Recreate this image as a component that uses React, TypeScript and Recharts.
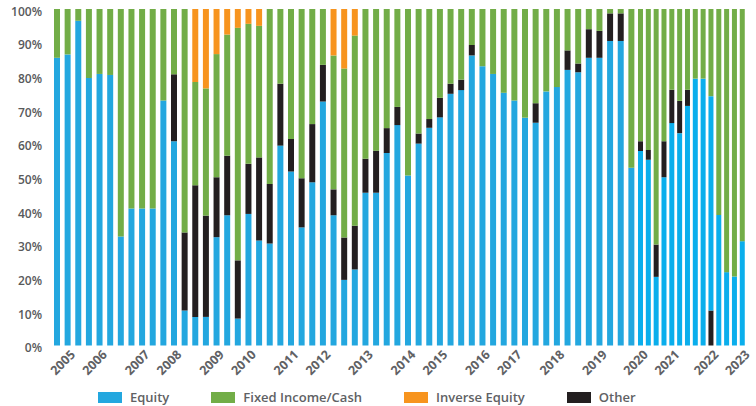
import { Bar, BarChart, XAxis, YAxis } from "recharts";

// one entry per reporting date, oldest first (69 bars)
const equity = [
  85.5, 86.5, 96.5, 79.5, 80.7, 80.4, 32.4, 40.7, 40.7, 40.7,
  72.8, 60.7, 10.4, 8.5, 8.5, 32.2, 38.7, 8, 39.1, 31.2,
  30.3, 59.4, 51.7, 35.1, 48.5, 72.5, 38.7, 19.5, 22.6, 45.4,
  45.4, 57.2, 65.5, 50.5, 60, 64.7, 67.8, 74.8, 75.9, 86.2,
  83, 80.7, 75.1, 72.8, 67.7, 66.2, 75.5, 76.8, 81.9, 81.2,
  85.5, 85.5, 90.5, 90.5, 52.8, 57.8, 55.2, 20.4, 50, 66.1,
  63.1, 71.2, 79.3, 79.3, 63.7, 38.8, 21.8, 20.5, 31,
];
const other = [
  0, 0, 0, 0, 0, 0, 0, 0, 0, 0,
  0, 19.9, 23.2, 39.1, 30.1, 17.8, 17.7, 17.3, 14.9, 24.7,
  17.7, 18.4, 9.7, 14.6, 17.3, 10.9, 7.7, 12.6, 13, 10.1,
  12.5, 7.4, 5.4, 0, 3, 2.6, 5.8, 3, 3.1, 3.1,
  0, 0, 0, 0, 0, 5.8, 0, 0, 5.8, 2.6,
  8.5, 8, 8.2, 8.2, 0, 2.9, 2.9, 9.6, 10.7, 9.9,
  9.6, 4.8, 0, 0, 0, 0, 0, 0, 0,
];
const fixedIncome = [
  14.5, 13.5, 3.5, 20.5, 19.3, 19.6, 67.6, 59.3, 59.3, 59.3,
  27.2, 19.4, 66.4, 30.7, 37.8, 36.6, 36, 69.1, 41.6, 39.1,
  52, 22.2, 38.6, 50.3, 34.2, 16.6, 39.8, 50.2, 56.5, 44.5,
  42.1, 35.4, 29.1, 49.5, 37, 32.7, 26.4, 22.2, 21, 10.7,
  17, 19.3, 24.9, 27.2, 32.3, 28, 24.5, 23.2, 12.3, 16.2,
  6, 6.5, 1.3, 1.3, 47.2, 39.3, 41.9, 70, 39.3, 24,
  27.3, 24, 20.7, 20.7, 25.9, 61.2, 78.2, 79.5, 69,
];
const inverseEquity = [
  0, 0, 0, 0, 0, 0, 0, 0, 0, 0,
  0, 0, 0, 21.7, 23.6, 13.4, 7.6, 5.6, 4.4, 5,
  0, 0, 0, 0, 0, 0, 13.8, 17.7, 7.9, 0,
  0, 0, 0, 0, 0, 0, 0, 0, 0, 0,
  0, 0, 0, 0, 0, 0, 0, 0, 0, 0,
  0, 0, 0, 0, 0, 0, 0, 0, 0, 0,
  0, 0, 0, 0, 0, 0, 0, 0, 0,
];
// bar 65 shows its "Other" slice under the equity slice
const otherBelowEquity: Record<number, number> = { 65: 10.4 };

const years = [
  2005, 2006, 2007, 2008, 2009, 2010, 2011, 2012, 2013, 2014,
  2015, 2016, 2017, 2018, 2019, 2020, 2021, 2022, 2023,
];
const yearBars = [2, 5, 9, 12, 16, 19, 23, 26, 30, 34, 37, 41, 44, 48, 52, 56, 60, 65, 69];
const pctTicks = [0, 10, 20, 30, 40, 50, 60, 70, 80, 90, 100];

// the chart gets denser from bar 56 on
const firstPeriodBars = 55;

const rows = equity.map((eq, i) => ({
  bar: i + 1,
  otherBase: otherBelowEquity[i + 1] ?? 0,
  equity: eq,
  other: other[i],
  fixed: fixedIncome[i],
  inverse: inverseEquity[i],
}));
const early = rows.slice(0, firstPeriodBars);
const late = rows.slice(firstPeriodBars);

const yearOf = new Map(yearBars.map((b, i) => [b, years[i]]));

const FONT = "'Open Sans', 'Noto Sans', sans-serif";
const COLORS = {
  equity: "#23a7df",
  equityLate: "#0aaeec",
  fixed: "#72ad47",
  inverse: "#f7941e",
  other: "#231f20",
};

function YearTick({ x, y, payload }: any) {
  const ax = x + 8;
  const ay = y + 10;
  return (
    <text
      x={ax}
      y={ay}
      transform={`rotate(-45, ${ax}, ${ay})`}
      textAnchor="end"
      fill="#606164"
      fontSize={12.5}
      fontWeight={700}
      fontFamily={FONT}
    >
      {yearOf.get(payload.value)}
    </text>
  );
}

function PctTick({ x, y, payload }: any) {
  return (
    <text
      x={x}
      y={y + 2.5}
      dy="0.35em"
      textAnchor="end"
      fill="#58595b"
      fontSize={12}
      fontWeight={600}
      fontFamily={FONT}
    >
      {payload.value}%
    </text>
  );
}

function Stack({ equityFill, size }: { equityFill: string; size: number }) {
  return [
    <Bar key="ob" dataKey="otherBase" stackId="s" fill={COLORS.other} barSize={size} isAnimationActive={false} />,
    <Bar key="eq" dataKey="equity" stackId="s" fill={equityFill} barSize={size} isAnimationActive={false} />,
    <Bar key="ot" dataKey="other" stackId="s" fill={COLORS.other} barSize={size} isAnimationActive={false} />,
    <Bar key="fi" dataKey="fixed" stackId="s" fill={COLORS.fixed} barSize={size} isAnimationActive={false} />,
    <Bar key="in" dataKey="inverse" stackId="s" fill={COLORS.inverse} barSize={size} isAnimationActive={false} />,
  ];
}

const legendItems = [
  { name: "Equity", color: COLORS.equity },
  { name: "Fixed Income/Cash", color: COLORS.fixed },
  { name: "Inverse Equity", color: COLORS.inverse },
  { name: "Other", color: COLORS.other },
];

export default function App() {
  const xAxisProps = {
    dataKey: "bar",
    height: 60.5,
    interval: 0 as const,
    tickLine: false,
    axisLine: false,
    tickSize: 0,
    tickMargin: 0,
    tick: <YearTick />,
  };
  return (
    <div style={{ position: "absolute", left: 0, top: 0, width: 756, height: 406, background: "#fff" }}>
      <style>{`.recharts-surface{overflow:visible}`}</style>
      <div style={{ position: "absolute", left: 0, top: 0 }}>
        <BarChart width={637} height={406} data={early} margin={{ top: 9, right: 0, bottom: 0, left: 0 }} barCategoryGap={0}>
          <XAxis {...xAxisProps} ticks={yearBars.filter((b) => b <= firstPeriodBars)} />
          <YAxis
            width={52}
            domain={[0, 100]}
            ticks={pctTicks}
            tickLine={false}
            axisLine={false}
            tickSize={0}
            tickMargin={10}
            tick={<PctTick />}
          />
          {Stack({ equityFill: COLORS.equity, size: 6 })}
        </BarChart>
      </div>
      <div style={{ position: "absolute", left: 637, top: 0 }}>
        <BarChart width={119} height={406} data={late} margin={{ top: 9, right: 9.4, bottom: 0, left: 0 }} barCategoryGap={0}>
          <XAxis {...xAxisProps} ticks={yearBars.filter((b) => b > firstPeriodBars)} />
          <YAxis hide domain={[0, 100]} />
          {Stack({ equityFill: COLORS.equityLate, size: 5 })}
        </BarChart>
      </div>
      <div
        style={{
          position: "absolute",
          left: 98,
          top: 389,
          display: "flex",
          gap: 42,
          fontFamily: FONT,
          fontSize: 13,
          fontWeight: 600,
          color: "#606164",
          lineHeight: "16px",
        }}
      >
        {legendItems.map((it) => (
          <div key={it.name} style={{ display: "flex", alignItems: "center" }}>
            <span style={{ width: 24, height: 11, background: it.color, marginRight: 8 }} />
            <span>{it.name}</span>
          </div>
        ))}
      </div>
    </div>
  );
}
